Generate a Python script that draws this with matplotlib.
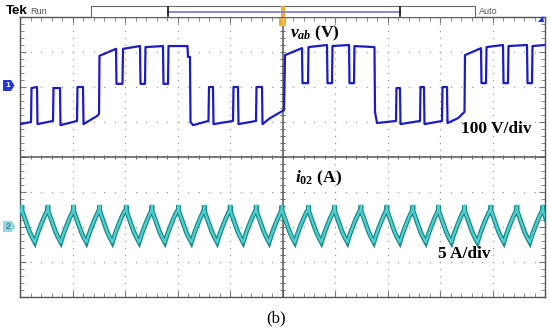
import numpy as np
import matplotlib
matplotlib.use("Agg")
import matplotlib.pyplot as plt
from matplotlib.patches import Polygon, Rectangle

plt.rcParams['mathtext.fontset'] = 'custom'
plt.rcParams['mathtext.rm'] = 'Liberation Serif:bold'
plt.rcParams['mathtext.it'] = 'Liberation Serif:italic:bold'
plt.rcParams['mathtext.bf'] = 'Liberation Serif:bold'

# channel 1: v_ab in volts (100 V/div), time in divisions
t_vab = [0.000, 0.210, 0.219, 0.324, 0.333, 0.629, 0.638, 0.762, 0.771, 1.086,
         1.095, 1.200, 1.210, 1.467, 1.505, 1.514, 1.829, 1.838, 1.952, 1.962,
         2.286, 2.295, 2.381, 2.390, 2.724, 2.733, 2.819, 2.829, 3.190, 3.200,
         3.238, 3.248, 3.295, 3.590, 3.600, 3.676, 3.686, 4.057, 4.067, 4.152,
         4.162, 4.495, 4.505, 4.610, 4.619, 4.762, 5.029, 5.048, 5.371, 5.381,
         5.486, 5.495, 5.848, 5.857, 5.943, 5.952, 6.267, 6.276, 6.362, 6.371,
         6.752, 6.762, 6.800, 7.162, 7.171, 7.238, 7.248, 7.619, 7.629, 7.695,
         7.705, 8.038, 8.048, 8.133, 8.143, 8.343, 8.467, 8.476, 8.781, 8.790,
         8.876, 8.886, 9.200, 9.210, 9.295, 9.305, 9.657, 9.667, 9.752, 9.762,
         10.00]
vab = [-106, -100, -3, 0, -106, -97, -3, -3, -109, -97,
       0, 0, -106, -83, -77, 89, 109, 9, 9, 109,
       117, 9, 9, 114, 117, 9, 9, 117, 117, 86,
       86, -100, -109, -97, 0, 0, -106, -97, 0, 0,
       -106, -97, 0, 0, -106, -89, -66, 91, 111, 11,
       11, 114, 120, 11, 11, 117, 120, 11, 11, 117,
       114, -71, -103, -97, -3, -3, -106, -97, 0, 0,
       -106, -97, 0, 0, -103, -89, -71, 91, 111, 11,
       11, 114, 120, 11, 11, 117, 120, 11, 11, 117,
       120]

# channel 2: i_02 in amps (5 A/div)
i_peak_t = [0.032, 0.528, 1.015, 1.510, 2.019, 2.509, 3.015, 3.505, 4.000, 4.495,
            4.985, 5.491, 5.987, 6.490, 6.985, 7.480, 7.968, 8.463, 8.966, 9.461, 9.956]
i_phase = [0.000, 0.004, 0.008, 0.05, 0.10, 0.15, 0.20, 0.25, 0.30, 0.36, 0.42, 0.47]
i_shape = [2.5, 3.1, 2.3, 1.4, 0.3, -0.7, -1.5, -2.2, -1.0, 0.2, 1.3, 2.1]
i_start = 2.1

v_scale, v_offset = 100.0, 2.0
i_scale, i_offset = 5.0, -2.0

W, H = 550, 333
fig = plt.figure(figsize=(5.5, 3.33), dpi=100)
fig.patch.set_facecolor('white')

ax = fig.add_axes([20 / W, 1 - 297 / H, 525 / W, 280 / H])
ax.set_xlim(0, 10)
ax.set_ylim(-4, 4)
for s in ax.spines.values():
    s.set_color('#555555')
    s.set_linewidth(1.0)
ax.set_xticks(np.arange(0, 10.01, 1))
ax.set_yticks(np.arange(-4, 4.01, 1))
ax.set_xticks(np.arange(0, 10.01, 0.2), minor=True)
ax.set_yticks(np.arange(-4, 4.01, 0.2), minor=True)
ax.tick_params(which='both', direction='in', top=True, right=True,
               labelbottom=False, labelleft=False, color='#777777')
ax.tick_params(which='major', length=4, width=0.8)
ax.tick_params(which='minor', length=3, width=0.6)

# dotted graticule
ys = np.arange(-4, 4.01, 0.2)
xs = np.arange(0, 10.01, 0.2)
for k in range(1, 10):
    if k != 5:
        ax.plot(np.full_like(ys, k), ys, ls='none', marker='o', ms=1.0,
                color='#9a9a9a', mec='none')
for j in range(-3, 4):
    if j != 0:
        ax.plot(xs, np.full_like(xs, j), ls='none', marker='o', ms=1.0,
                color='#9a9a9a', mec='none')

# centre crosshair with small ticks
ax.axhline(0, color='#555555', lw=1.1)
ax.axvline(5, color='#555555', lw=1.1)
ax.vlines(xs, -0.07, 0.07, color='#666666', lw=0.7)
ax.hlines(ys, 4.95, 5.05, color='#666666', lw=0.7)

# traces
ax.plot(t_vab, v_offset + np.array(vab) / v_scale, color='#1c1cc4', lw=1.6, zorder=5)

t_i = [0.0]
i_vals = [i_start]
for p in i_peak_t:
    t_i.extend([p + ph for ph in i_phase])
    i_vals.extend(i_shape)
i_div = i_offset + np.array(i_vals) / i_scale
ax.plot(t_i, i_div, color='#1a8a8a', lw=3.4, zorder=5, solid_joinstyle='miter')
ax.plot(t_i, i_div, color='#4fcfcf', lw=1.6, zorder=6)

# overlay in pixel coordinates for scope decorations and labels
ov = fig.add_axes([0, 0, 1, 1])
ov.set_xlim(0, W)
ov.set_ylim(H, 0)
ov.axis('off')
ov.patch.set_visible(False)

ov.text(6, 11, 'Tek', fontsize=9.5, fontweight='bold', family='Liberation Sans',
        va='center', ha='left')
ov.text(30, 11, 'Run', fontsize=6.5, color='#555555', family='Liberation Sans',
        va='center', ha='left')
ov.text(479, 11, 'Auto', fontsize=6.5, color='#555555', family='Liberation Sans',
        va='center', ha='left')

ov.add_patch(Rectangle((91, 6), 384, 11, fc='white', ec='#666666', lw=0.8))
ov.plot([168, 400], [11.5, 11.5], color='#8080d8', lw=1.3)
ov.plot([168, 168], [7, 16], color='black', lw=1.1)
ov.plot([400, 400], [7, 16], color='black', lw=1.1)
ov.add_patch(Rectangle((280.5, 6), 4, 11, fc='#f0a830', ec='none'))
ov.add_patch(Rectangle((279, 17.5), 7, 8, fc='#f0a830', ec='none'))
ov.plot([282.5, 282.5], [19, 24.5], color='white', lw=0.8)
ov.add_patch(Polygon([(538, 22), (544, 22), (543, 16)], closed=True,
                     fc='#2030d0', ec='none'))

# channel markers
ov.add_patch(Polygon([(3, 80), (11, 80), (14.5, 85.5), (11, 91), (3, 91)],
                     closed=True, fc='#2438d8', ec='none'))
ov.text(7.5, 85.8, '1', fontsize=6, color='white', fontweight='bold',
        ha='center', va='center', family='Liberation Sans')
ov.add_patch(Polygon([(3, 221), (12, 221), (15.5, 226.5), (12, 232), (3, 232)],
                     closed=True, fc='#92dade', ec='none'))
ov.text(8, 226.8, '2', fontsize=6.5, color='#4a7a98', fontweight='bold',
        ha='center', va='center', family='Liberation Sans')

lab = dict(fontsize=12.5, fontweight='bold', family='Liberation Serif',
           ha='left', va='baseline')
ov.text(290, 37, r'$v_{ab}$ (V)', **lab)
ov.text(461, 133, '100 V/div', **lab)
ov.text(295, 182, r'$i_{\mathit{02}}$ (A)', **lab)
ov.text(438, 258, '5 A/div', **lab)

ov.text(276, 318, '(b)', fontsize=12, family='Liberation Serif',
        ha='center', va='center')

fig.savefig('out.png', dpi=100)
